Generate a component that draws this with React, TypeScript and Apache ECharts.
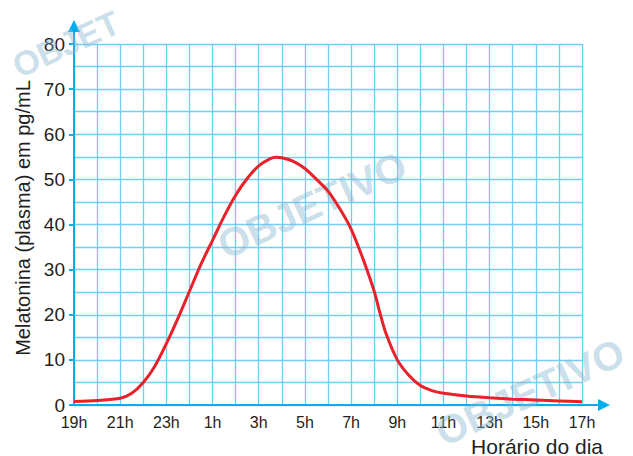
import React, { useEffect, useRef } from "react";
import * as echarts from "echarts";

const startHour = 19;
const hourSpan = 22;
const yMax = 80;
const yStep = 10;
const xStep = 2;

// hours elapsed since 19h
const hoursSince19 = [0, 1, 2, 2.5, 3, 3.5, 4, 4.5, 5, 5.5, 6, 6.5, 7, 7.5, 8, 8.5, 8.75, 9, 9.5, 10, 10.5, 11, 11.5, 12, 12.5, 13, 13.25, 13.5, 14, 14.5, 15, 15.5, 16, 17, 18, 19, 20, 21, 22];
// melatonin (pg/mL)
const melatonin = [0.8, 1.0, 1.5, 2.6, 5.0, 8.6, 13.6, 19.2, 25.2, 31.2, 36.5, 41.8, 46.5, 50.2, 53.0, 54.6, 54.9, 54.8, 54.0, 52.4, 50.0, 47.4, 43.6, 39.0, 32.6, 25.2, 20.4, 16.0, 10.0, 6.6, 4.3, 3.2, 2.6, 2.0, 1.6, 1.3, 1.1, 0.9, 0.7];

const yAxisTitle = "Melatonina (plasma) em pg/mL";
const xAxisTitle = "Horário do dia";
const watermarkText = "OBJETIVO";
const watermarkPartial = "OBJET";

const FONT = "'Liberation Sans', Arial, Helvetica, sans-serif";
const AXIS = "#00aeef";
const GRIDC = "#6fd0f5";
const TEXT = "#231f20";

export default function App() {
  const ref = useRef<HTMLDivElement>(null);
  useEffect(() => {
    if (!ref.current) return;
    const chart = echarts.init(ref.current, undefined, { renderer: "svg" });
    const wmStyle = {
      fontFamily: FONT,
      fontWeight: "bold" as const,
      fontSize: 40,
      fill: "rgba(140,185,210,0.45)",
      align: "center" as const,
      verticalAlign: "middle" as const,
    };
    chart.setOption({
      animation: false,
      backgroundColor: "#ffffff",
      grid: [
        { left: 74, right: 51, top: 44, bottom: 51 },
        { left: 74, right: 29, top: 26, bottom: 51 },
      ],
      xAxis: [
        {
          type: "value",
          gridIndex: 0,
          min: 0,
          max: hourSpan,
          interval: xStep,
          axisLine: { show: false },
          axisTick: { show: false },
          splitLine: { show: true, lineStyle: { color: GRIDC, width: 1.3 } },
          minorTick: { show: false, splitNumber: 2 },
          minorSplitLine: { show: true, lineStyle: { color: GRIDC, width: 1.3 } },
          axisLabel: {
            margin: 9,
            fontSize: 16,
            color: TEXT,
            fontFamily: FONT,
            formatter: (v: number) => `${(startHour + v) % 24}h`,
          },
        },
        {
          type: "value",
          gridIndex: 1,
          min: 0,
          max: 1,
          axisLine: {
            show: true,
            symbol: ["none", "triangle"],
            symbolSize: [12, 12],
            lineStyle: { color: AXIS, width: 2 },
          },
          axisTick: { show: false },
          axisLabel: { show: false },
          splitLine: { show: false },
        },
      ],
      yAxis: [
        {
          type: "value",
          gridIndex: 0,
          min: 0,
          max: yMax,
          interval: yStep,
          axisLine: { show: false },
          axisTick: { show: true, length: 5, lineStyle: { color: AXIS, width: 2 } },
          splitLine: { show: true, lineStyle: { color: GRIDC, width: 1.3 } },
          minorTick: { show: false, splitNumber: 2 },
          minorSplitLine: { show: true, lineStyle: { color: GRIDC, width: 1.3 } },
          axisLabel: { margin: 9, fontSize: 19, color: TEXT, fontFamily: FONT },
        },
        {
          type: "value",
          gridIndex: 1,
          min: 0,
          max: 1,
          axisLine: {
            show: true,
            symbol: ["none", "triangle"],
            symbolSize: [12, 12],
            lineStyle: { color: AXIS, width: 2 },
          },
          axisTick: { show: false },
          axisLabel: { show: false },
          splitLine: { show: false },
        },
      ],
      graphic: [
        { type: "text", z: 1, x: 312, y: 205, rotation: 0.43, style: { ...wmStyle, text: watermarkText } },
        { type: "text", z: 1, x: 530, y: 392, rotation: 0.43, style: { ...wmStyle, text: watermarkText } },
        { type: "text", z: 1, x: 66, y: 44, rotation: 0.43, style: { ...wmStyle, fontSize: 34, text: watermarkPartial } },
        {
          type: "text",
          z: 10,
          x: 23,
          y: 218,
          rotation: Math.PI / 2,
          style: { text: yAxisTitle, fontFamily: FONT, fontSize: 20, fill: TEXT, align: "center", verticalAlign: "middle" },
        },
        {
          type: "text",
          z: 10,
          x: 603,
          y: 446,
          style: { text: xAxisTitle, fontFamily: FONT, fontSize: 21, fill: TEXT, align: "right", verticalAlign: "middle" },
        },
      ],
      series: [
        {
          type: "line",
          xAxisIndex: 0,
          yAxisIndex: 0,
          z: 5,
          smooth: 0.3,
          showSymbol: false,
          symbol: "none",
          lineStyle: { color: "#e8212a", width: 3 },
          data: hoursSince19.map((h, i) => [h, melatonin[i]]),
        },
      ],
    });
    return () => chart.dispose();
  }, []);
  return <div ref={ref} style={{ position: "fixed", left: 0, top: 0, width: 633, height: 456 }} />;
}
